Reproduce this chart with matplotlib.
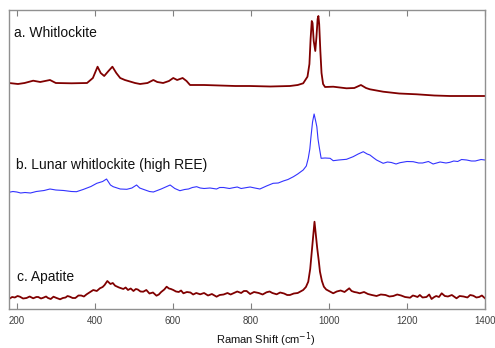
import matplotlib
matplotlib.use("Agg")
import matplotlib.pyplot as plt

plt.rcParams['font.family'] = ['Liberation Sans', 'DejaVu Sans']

# Raman shift (cm^-1) and intensities (arbitrary units, stacked traces)
shift_a = [180, 203, 220, 242, 260, 285, 300, 340, 380, 395, 407, 415, 424, 435, 445, 455,
           465, 477, 490, 503, 516, 535, 550, 560, 575, 590, 601, 611, 625, 635, 644, 680,
           720, 760, 797, 850, 900, 920, 934, 945, 950, 953, 956, 958, 961, 965, 968, 971,
           973, 975, 978, 981, 985, 990, 1011, 1045, 1065, 1082, 1095, 1105, 1139, 1180,
           1225, 1270, 1310, 1350, 1400]
whitlockite = [226, 225, 226, 228.3, 227, 229, 226, 225.7, 226, 231, 242.3, 236, 233, 238,
               242.3, 236, 231, 229, 227.5, 226, 225, 226, 229, 227, 226, 228, 231, 229, 231,
               228, 224, 224, 223.5, 223, 223, 222.5, 223, 224, 225.7, 232.3, 245, 270, 288,
               286, 268, 258, 272, 290, 293, 285, 258, 236, 225, 222, 222.3, 220.7, 221, 224,
               221, 219.7, 217.3, 215.5, 214.7, 213.5, 213, 213, 213]

shift_b = [180, 190, 200, 210, 221, 235, 250, 270, 285, 300, 320, 340, 353, 370, 390, 405,
           420, 430, 440, 447, 465, 482, 495, 507, 515, 524, 540, 550, 570, 593, 605, 618,
           630, 640, 650, 661, 670, 680, 695, 712, 720, 730, 745, 755, 765, 775, 790, 798,
           810, 823, 840, 857, 870, 883, 895, 909, 920, 934, 942, 947, 951, 954, 958, 962,
           966, 969, 972, 975, 980, 990, 1003, 1011, 1025, 1045, 1062, 1075, 1088, 1098,
           1105, 1115, 1122, 1139, 1150, 1160, 1172, 1182, 1200, 1216, 1230, 1240, 1255,
           1267, 1285, 1300, 1310, 1320, 1330, 1340, 1353, 1365, 1375, 1390, 1400]
lunar = [116.7, 117.5, 117, 116, 116.5, 116, 117.5, 118.5, 120, 119, 118.5, 117.5, 117.3,
         119.5, 122.5, 125.7, 127.5, 130, 124, 122.3, 120, 119.7, 121, 124, 121, 119.7, 117.5,
         117, 120, 124, 120.5, 118.3, 119.5, 120, 121.5, 122.3, 121, 120.5, 121, 120, 121.5,
         121.5, 120.5, 121.3, 122, 120.5, 121.5, 122, 121, 120, 123, 125.7, 126, 128, 129.5,
         132.3, 135, 139, 143, 150.7, 160, 172.3, 187, 195, 188, 182.3, 170, 162.3, 150.7,
         151, 150.7, 148.3, 149, 149.7, 152.3, 155, 157.3, 155, 154, 151, 149, 145.7, 147,
         146.5, 145, 146.3, 147.5, 147.3, 146, 146, 147.5, 145, 147, 146, 146.7, 148, 147.5,
         149.5, 149, 148, 148, 149.5, 149]

shift_c = [180, 188, 195, 202, 208, 216, 225, 233, 242, 250, 255, 262, 268, 275, 280, 287,
           294, 302, 311, 318, 325, 330, 336, 343, 350, 358, 365, 372, 379, 388, 396, 405,
           413, 420, 425, 432, 440, 446, 452, 462, 473, 479, 485, 492, 499, 505, 510, 517,
           524, 532, 540, 549, 558, 564, 570, 578, 584, 590, 595, 601, 608, 615, 621, 627,
           636, 645, 652, 660, 670, 680, 690, 700, 712, 720, 730, 740, 748, 755, 765, 775,
           782, 789, 798, 808, 820, 830, 840, 848, 855, 866, 875, 885, 893, 900, 910, 920,
           927, 934, 941, 947, 952, 956, 960, 963, 966, 970, 974, 977, 982, 987, 993, 1000,
           1011, 1020, 1030, 1040, 1052, 1058, 1065, 1072, 1079, 1090, 1100, 1110, 1122,
           1133, 1145, 1155, 1165, 1175, 1185, 1195, 1208, 1215, 1220, 1227, 1233, 1240,
           1250, 1257, 1263, 1270, 1275, 1282, 1289, 1297, 1305, 1315, 1327, 1335, 1345,
           1355, 1362, 1370, 1378, 1385, 1392, 1400]
apatite = [10, 12, 11.5, 13, 12.3, 10.5, 11, 12.5, 10.7, 12, 12, 10.5, 11.3, 12.5, 11, 10,
           12.3, 11, 9.7, 11, 11.5, 13, 12.3, 11, 11, 13.5, 13.5, 12.5, 14.7, 17, 19, 18, 20.7,
           22, 24, 28, 25, 26, 23.3, 21.5, 20, 21.5, 19, 20.5, 18, 20, 19.5, 17.5, 17.3, 19,
           15.5, 16.5, 13.3, 14.5, 17, 19.5, 22.3, 20.5, 20, 19, 17.5, 17, 18.5, 15.7, 17,
           16.5, 14.5, 16, 14.7, 16, 13.5, 15, 12.3, 14, 14.5, 16, 14.5, 15.7, 17.5, 16, 18,
           18, 15, 17, 16, 14.5, 16.7, 17.5, 16, 14.7, 16.5, 15.5, 14, 14, 15.5, 16, 17.5, 19,
           22, 27.3, 40, 57.3, 75, 87.3, 76, 60.7, 48, 37.3, 28, 22.3, 19.5, 18, 15.7, 17.5,
           18.5, 17, 20.7, 18, 17, 16.5, 15.7, 17, 15, 14, 13, 14.5, 14, 12.5, 13, 14.5, 13.5,
           12, 11.3, 13.5, 13, 12, 14, 11.5, 12, 14.5, 10, 12, 13, 12, 15.7, 13, 12.5, 14,
           10.7, 13, 12.5, 11.5, 14, 13.3, 11.5, 12, 13.5, 10.7]

labels = ["a. Whitlockite", "b. Lunar whitlockite (high REE)", "c. Apatite"]
label_pos = [(14, 33), (16, 165), (17, 277)]   # pixel positions of the labels
xticks = [200, 400, 600, 800, 1000, 1200, 1400]

fig = plt.figure(figsize=(4.95, 3.48), dpi=100)
ax = fig.add_axes([9/495, 39/348, 476/495, 299/348])

ax.plot(shift_a, whitlockite, color='#800000', lw=1.3)
ax.plot(shift_b, lunar, color='#3333ff', lw=0.8)
ax.plot(shift_c, apatite, color='#800000', lw=1.3)

ax.set_xlim(180, 1400)
ax.set_ylim(0, 299)
ax.set_yticks([])
ax.set_xticks(xticks)
ax.set_xticklabels([str(t) for t in xticks])
ax.tick_params(axis='x', direction='in', top=True, bottom=True, length=4,
               color='#808080', labelsize=7, labelcolor='#404040', pad=5)
for s in ax.spines.values():
    s.set_color('#909090')
    s.set_linewidth(1)

for lab, (px, py) in zip(labels, label_pos):
    fig.text(px/495, (348-py)/348, lab, fontsize=10, va='center', ha='left',
             color='#111111')

fig.text(266/495, (348-340)/348, "Raman Shift (cm$^{-1}$)", fontsize=8,
         ha='center', va='center', color='#111111')

fig.savefig("out.png", dpi=100)
